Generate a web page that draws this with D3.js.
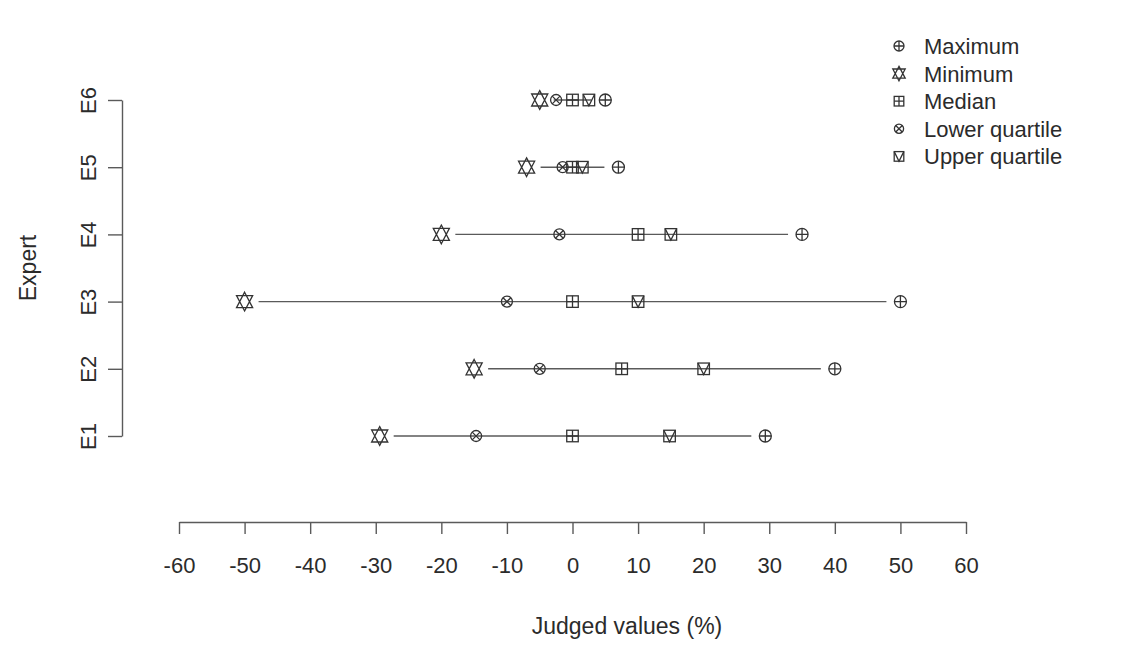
<!DOCTYPE html>
<html>
<head>
<meta charset="utf-8">
<script src="https://cdn.jsdelivr.net/npm/d3@7"></script>
<style>
  html, body { margin: 0; padding: 0; background: #ffffff; }
  svg text { font-family: "Liberation Sans", Arial, Helvetica, sans-serif; fill: #2b2b2b; }
</style>
</head>
<body>
<svg id="chart" width="1131" height="653"></svg>
<script>
// Expert judgements: five-number summary per expert (values in %)
const experts = ["E1", "E2", "E3", "E4", "E5", "E6"];
const minimum       = [-29.4, -15, -50, -20, -7,   -5];
const lowerQuartile = [-14.7,  -5, -10,  -2, -1.5, -2.5];
const median        = [    0, 7.5,   0,  10,  0,    0];
const upperQuartile = [ 14.8,  20,  10,  15,  1.5,  2.5];
const maximum       = [ 29.4,  40,  50,  35,  7,    5];
const xTicks = [-60, -50, -40, -30, -20, -10, 0, 10, 20, 30, 40, 50, 60];

const legendItems = [
  { key: "max", label: "Maximum" },
  { key: "min", label: "Minimum" },
  { key: "med", label: "Median" },
  { key: "lq",  label: "Lower quartile" },
  { key: "uq",  label: "Upper quartile" }
];

const svg = d3.select("#chart");
const ink = "#333333";
const lineInk = "#5a5a5a";

const x = d3.scaleLinear().domain([-60, 60]).range([179, 966]);
const y = d3.scalePoint().domain(experts).range([436, 100]);

// Symbol drawers, in the spirit of R's pch 10-14
function drawSymbol(g, key, s) {
  const a = { fill: "none", stroke: ink, "stroke-width": 1.3 };
  const set = (sel) => { Object.entries(a).forEach(([k, v]) => sel.attr(k, v)); return sel; };
  if (key === "max") {            // circle plus
    const r = s * 0.5;
    set(g.append("circle").attr("r", r));
    set(g.append("path").attr("d", `M${-r},0H${r}M0,${-r}V${r}`));
  } else if (key === "min") {     // two overlapping triangles
    const w = s * 0.62, h1 = s * 0.72, h2 = s * 0.46;
    set(g.append("path").attr("d",
      `M0,${-h1}L${w},${h2}L${-w},${h2}Z M0,${h1}L${w},${-h2}L${-w},${-h2}Z`));
  } else if (key === "med") {     // square plus
    const h = s * 0.48;
    set(g.append("rect").attr("x", -h).attr("y", -h).attr("width", 2 * h).attr("height", 2 * h));
    set(g.append("path").attr("d", `M${-h},0H${h}M0,${-h}V${h}`));
  } else if (key === "lq") {      // circle cross
    const r = s * 0.46, d = r * Math.SQRT1_2;
    set(g.append("circle").attr("r", r));
    set(g.append("path").attr("d", `M${-d},${-d}L${d},${d}M${-d},${d}L${d},${-d}`));
  } else if (key === "uq") {      // square with V
    const h = s * 0.48;
    set(g.append("rect").attr("x", -h).attr("y", -h).attr("width", 2 * h).attr("height", 2 * h));
    set(g.append("path").attr("d", `M${-h},${-h}L0,${h}L${h},${-h}`));
  }
}

// Range lines, stopping short of the end symbols
const gap = 14;
experts.forEach((e, i) => {
  svg.append("line")
    .attr("x1", x(minimum[i]) + gap)
    .attr("x2", x(maximum[i]) - gap)
    .attr("y1", y(e)).attr("y2", y(e))
    .attr("stroke", lineInk).attr("stroke-width", 1.4);
});

// Points
const seriesMap = { max: maximum, min: minimum, med: median, lq: lowerQuartile, uq: upperQuartile };
Object.entries(seriesMap).forEach(([key, vals]) => {
  experts.forEach((e, i) => {
    const g = svg.append("g").attr("transform", `translate(${x(vals[i])},${y(e)})`);
    drawSymbol(g, key, key === "min" ? 13 : 12);
  });
});

// X axis (plain hyphen for negative labels)
const xAxis = svg.append("g").attr("transform", "translate(0,522)")
  .call(d3.axisBottom(x).tickValues(xTicks).tickFormat(d => String(d))
    .tickSize(12).tickPadding(23).tickSizeOuter(0));
xAxis.select(".domain").attr("stroke", lineInk).attr("stroke-width", 1.4);
xAxis.selectAll(".tick line").attr("stroke", lineInk).attr("stroke-width", 1.4);
xAxis.selectAll(".tick text").attr("font-size", 22).attr("fill", "#2b2b2b")
  .attr("font-family", "Liberation Sans, Arial, sans-serif");

// Y axis
const yAxis = svg.append("g").attr("transform", "translate(122,0)")
  .call(d3.axisLeft(y).tickSize(14).tickPadding(0).tickSizeOuter(0));
yAxis.select(".domain").attr("stroke", lineInk).attr("stroke-width", 1.4);
yAxis.selectAll(".tick line").attr("stroke", lineInk).attr("stroke-width", 1.4);
yAxis.selectAll(".tick text").remove();
yAxis.selectAll(".tick").append("text")
  .attr("transform", "translate(-26,0) rotate(-90)")
  .attr("text-anchor", "middle")
  .attr("font-size", 22)
  .attr("fill", "#2b2b2b")
  .attr("font-family", "Liberation Sans, Arial, sans-serif")
  .text(d => d);

// Axis titles
svg.append("text")
  .attr("x", 627).attr("y", 634)
  .attr("text-anchor", "middle").attr("font-size", 23)
  .text("Judged values (%)");
svg.append("text")
  .attr("transform", "translate(36,268) rotate(-90)")
  .attr("text-anchor", "middle").attr("font-size", 23)
  .text("Expert");

// Legend
const legend = svg.append("g").attr("transform", "translate(899,46)");
legendItems.forEach((item, i) => {
  const row = legend.append("g").attr("transform", `translate(0,${i * 27.6})`);
  drawSymbol(row.append("g"), item.key, 10);
  row.append("text").attr("x", 25).attr("y", 8).attr("font-size", 22).text(item.label);
});
</script>
</body>
</html>
